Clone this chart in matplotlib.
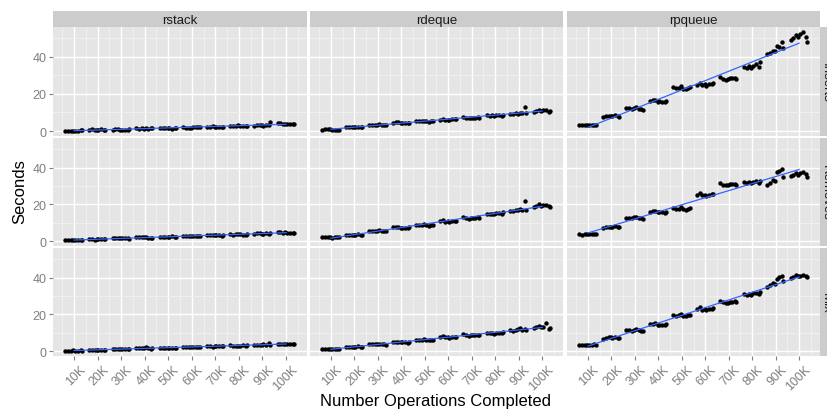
import numpy as np
import matplotlib
matplotlib.use('Agg')
import matplotlib.pyplot as plt
from matplotlib.transforms import ScaledTranslation

plt.rcParams['font.family'] = ['Liberation Sans', 'DejaVu Sans']

# number of operations completed (thousands) and the runs measured at each
ops_k = [10, 20, 30, 40, 50, 60, 70, 80, 90, 100]
tick_labels = ['10K', '20K', '30K', '40K', '50K', '60K', '70K', '80K', '90K', '100K']
structures = ['rstack', 'rdeque', 'rpqueue']
workloads = ['Inserts', 'Removes', 'Mix']

# seconds, one row of runs per ops_k value
rstack_inserts = [
    [0.1, 0.2, 0.3, 0.2, 0.1, 0.3, 0.2, 0.1], [0.7, 0.8, 0.9, 0.6, 0.8, 0.7, 0.9, 0.8],
    [0.7, 0.9, 0.8, 1.0, 0.6, 0.8, 0.7, 0.9], [1.3, 1.5, 1.4, 1.6, 1.2, 1.5, 1.4, 1.3],
    [1.4, 1.6, 1.8, 1.3, 1.5, 1.7, 1.6, 1.4], [1.8, 2.0, 1.7, 1.9, 2.1, 1.8, 2.0, 1.9],
    [2.2, 2.4, 2.3, 2.5, 2.1, 2.3, 2.4, 2.2], [2.6, 2.9, 2.7, 3.0, 2.5, 2.8, 2.7, 2.9],
    [2.9, 3.3, 3.1, 3.5, 2.8, 4.8, 3.2, 3.0], [3.8, 4.0, 3.6, 4.2, 3.9, 3.7, 4.1, 3.8]]
rstack_removes = [
    [0.4, 0.6, 0.5, 0.3, 0.7, 0.5, 0.4, 0.6], [0.9, 1.1, 1.0, 1.2, 0.8, 1.0, 1.1, 0.9],
    [1.4, 1.5, 1.6, 1.3, 1.5, 1.7, 1.4, 1.6], [1.9, 2.0, 2.2, 1.8, 2.1, 2.0, 1.9, 2.1],
    [2.2, 2.4, 2.3, 2.5, 2.1, 2.3, 2.4, 2.2], [2.6, 2.8, 2.7, 2.9, 2.5, 2.7, 2.8, 2.6],
    [3.1, 3.3, 3.2, 3.4, 3.0, 3.3, 3.2, 3.1], [3.5, 3.7, 3.6, 3.8, 3.4, 3.6, 3.7, 3.5],
    [4.0, 4.3, 4.1, 4.4, 3.9, 4.2, 4.1, 4.3], [4.5, 4.7, 4.6, 4.8, 4.4, 4.6, 4.7, 4.5]]
rstack_mix = [
    [0.1, 0.2, 0.3, 0.1, 0.2, 0.2, 0.3, 0.1], [0.6, 0.7, 0.8, 0.6, 0.7, 0.8, 0.7, 0.6],
    [1.1, 1.2, 1.3, 1.0, 1.2, 1.1, 1.3, 1.2], [1.4, 1.5, 1.6, 1.3, 1.5, 2.1, 1.4, 1.6],
    [1.7, 1.8, 1.9, 1.6, 1.8, 1.9, 1.7, 1.8], [2.1, 2.2, 2.3, 2.0, 2.2, 2.3, 2.1, 2.2],
    [2.5, 2.6, 2.8, 2.4, 2.6, 3.0, 2.7, 2.5], [2.9, 3.0, 3.2, 2.8, 3.1, 3.3, 3.0, 2.9],
    [3.3, 3.5, 4.4, 3.4, 3.6, 3.2, 3.5, 3.4], [3.7, 3.8, 4.0, 3.6, 3.9, 3.8, 3.7, 3.9]]

rdeque_inserts = [
    [0.7, 0.9, 0.8, 1.0, 0.6, 0.8, 0.9, 0.7], [2.0, 2.2, 2.4, 1.9, 2.3, 2.1, 2.2, 2.0],
    [3.2, 3.4, 3.6, 3.1, 3.5, 3.3, 3.4, 3.2], [4.3, 4.5, 4.7, 4.2, 4.6, 4.4, 4.5, 4.3],
    [5.2, 5.4, 5.6, 5.1, 5.5, 5.3, 5.4, 5.2], [6.1, 6.3, 6.6, 6.0, 6.4, 6.2, 6.3, 6.1],
    [7.0, 7.2, 7.5, 6.9, 7.3, 7.1, 7.2, 7.0], [8.2, 8.5, 8.8, 8.1, 8.6, 8.4, 8.5, 8.3],
    [9.3, 9.6, 13.1, 9.2, 9.8, 9.5, 9.4, 9.7], [10.6, 11.0, 11.4, 10.4, 11.2, 10.5, 10.8, 11.1]]
rdeque_removes = [
    [2.0, 2.3, 2.1, 2.4, 1.9, 2.2, 2.1, 2.3], [3.2, 3.4, 3.6, 3.1, 3.5, 3.3, 3.4, 3.2],
    [5.4, 5.6, 5.8, 5.3, 5.7, 5.5, 5.6, 5.4], [7.2, 7.4, 7.6, 7.1, 7.5, 7.3, 7.4, 7.2],
    [8.5, 8.8, 9.2, 8.4, 9.0, 8.7, 8.8, 8.6], [10.6, 11.0, 11.6, 10.4, 11.2, 10.8, 11.0, 10.7],
    [12.4, 12.8, 13.2, 12.2, 13.0, 12.6, 12.8, 12.5], [14.7, 15.1, 15.6, 14.5, 15.3, 14.9, 15.0, 14.8],
    [16.4, 16.9, 21.8, 16.2, 17.5, 16.7, 16.8, 17.1], [18.8, 19.3, 19.8, 18.5, 20.2, 18.9, 19.1, 19.5]]
rdeque_mix = [
    [1.0, 1.2, 1.3, 0.9, 1.2, 1.1, 1.0, 1.2], [2.1, 2.3, 2.5, 2.0, 2.4, 2.2, 2.3, 2.1],
    [3.6, 3.8, 4.1, 3.4, 3.9, 3.7, 3.8, 3.6], [4.7, 4.9, 5.1, 4.6, 5.0, 4.8, 4.9, 4.7],
    [5.9, 6.1, 6.3, 5.8, 6.2, 6.0, 6.1, 5.9], [7.5, 7.7, 8.0, 7.3, 7.8, 7.6, 7.7, 7.5],
    [8.6, 8.8, 9.1, 8.4, 9.0, 8.7, 8.8, 8.6], [9.7, 9.9, 10.3, 9.5, 10.1, 9.8, 9.9, 9.7],
    [11.4, 11.7, 12.1, 11.2, 12.4, 11.6, 11.8, 11.5], [12.8, 13.1, 15.1, 12.6, 13.4, 12.2, 13.0, 12.9]]

rpqueue_inserts = [
    [3.2, 3.4, 3.5, 3.3, 3.4, 3.3, 3.2, 3.4], [7.8, 8.2, 8.5, 7.6, 8.3, 8.0, 8.1, 7.9],
    [11.8, 12.3, 12.8, 11.5, 12.5, 12.1, 12.2, 11.9], [15.8, 16.4, 16.9, 15.5, 16.6, 16.1, 16.3, 15.9],
    [22.8, 23.6, 24.2, 22.5, 23.9, 23.3, 23.5, 23.0], [24.8, 25.4, 26.1, 24.5, 25.8, 25.2, 25.5, 25.0],
    [28.0, 28.5, 29.0, 27.8, 28.7, 28.3, 28.4, 28.1], [33.8, 35.3, 37.3, 34.2, 36.2, 34.8, 35.0, 34.5],
    [41.6, 43.5, 47.9, 42.3, 46.0, 44.6, 43.0, 45.2], [48.0, 50.6, 53.3, 49.2, 52.0, 51.0, 50.2, 52.6]]
rpqueue_removes = [
    [3.6, 3.8, 3.9, 3.5, 3.8, 3.7, 3.6, 3.8], [7.4, 7.7, 8.0, 7.2, 7.9, 7.6, 7.7, 7.5],
    [12.4, 12.8, 13.3, 12.2, 13.0, 12.6, 12.7, 12.5], [15.6, 16.0, 16.5, 15.4, 16.2, 15.8, 15.9, 15.7],
    [17.4, 17.8, 18.3, 17.2, 18.0, 17.6, 17.7, 17.5], [25.0, 25.4, 26.0, 24.7, 25.7, 25.2, 25.3, 25.1],
    [30.5, 31.0, 31.5, 30.3, 31.2, 30.8, 30.9, 30.6], [31.8, 32.3, 32.9, 31.5, 32.6, 32.1, 32.2, 31.9],
    [30.4, 33.5, 39.5, 31.8, 37.5, 35.0, 33.0, 38.4], [35.0, 36.2, 37.7, 35.5, 37.0, 36.5, 35.8, 37.3]]
rpqueue_mix = [
    [3.2, 3.4, 3.6, 3.1, 3.5, 3.3, 3.4, 3.2], [7.0, 7.4, 7.8, 6.8, 7.6, 7.2, 7.3, 7.1],
    [11.0, 11.5, 12.0, 10.8, 11.7, 11.3, 11.4, 11.1], [14.2, 14.6, 15.1, 14.0, 14.8, 14.4, 14.5, 14.3],
    [19.1, 19.6, 20.2, 18.9, 19.9, 19.4, 19.5, 19.2], [22.6, 23.2, 23.8, 22.4, 23.5, 23.0, 23.1, 22.8],
    [26.4, 26.9, 27.5, 26.2, 27.2, 26.7, 26.8, 26.5], [30.6, 31.4, 32.4, 30.3, 31.8, 31.1, 31.2, 30.9],
    [35.0, 37.0, 41.2, 36.0, 39.5, 38.2, 36.5, 40.4], [40.2, 40.9, 41.6, 40.0, 41.3, 40.7, 40.5, 41.0]]

panels = [
    [rstack_inserts, rdeque_inserts, rpqueue_inserts],
    [rstack_removes, rdeque_removes, rpqueue_removes],
    [rstack_mix, rdeque_mix, rpqueue_mix],
]

# fixed horizontal jitter (thousands), rotated per group
JITTER = [-3.6, -1.2, 2.8, -2.4, 0.4, 3.3, -0.3, 1.6]

W, H = 828, 414
cols_px = [(53, 307), (310, 563), (567, 820)]
rows_px = [(28, 137), (139, 247), (249, 357)]

PANEL_BG = '#E5E5E5'
STRIP_BG = '#CCCCCC'
GREY50 = '#7F7F7F'


def frac(x0, x1, y0, y1):
    return [x0 / W, 1 - y1 / H, (x1 - x0) / W, (y1 - y0) / H]


def bare(ax):
    ax.set_xticks([])
    ax.set_yticks([])
    for s in ax.spines.values():
        s.set_visible(False)


fig = plt.figure(figsize=(W / 100, H / 100), dpi=100)
shift = ScaledTranslation(5 / 100, 0, fig.dpi_scale_trans)

for r, (y0, y1) in enumerate(rows_px):
    for c, (x0, x1) in enumerate(cols_px):
        ax = fig.add_axes(frac(x0, x1, y0, y1))
        ax.set_facecolor(PANEL_BG)
        for s in ax.spines.values():
            s.set_visible(False)
        ax.set_xlim(1.1, 108.9)
        ax.set_ylim(-2.7, 56.2)
        ax.set_xticks(ops_k)
        ax.set_xticks([5 + 10 * i for i in range(11)], minor=True)
        ax.set_yticks([0, 20, 40])
        ax.set_yticks([10, 30, 50], minor=True)
        ax.grid(which='major', color='white', linewidth=1.0)
        ax.grid(which='minor', color='#F2F2F2', linewidth=0.6)
        ax.set_axisbelow(True)
        ax.tick_params(which='minor', length=0)
        ax.tick_params(which='major', length=3, width=0.8, color=GREY50,
                       labelcolor=GREY50, labelsize=9, pad=1.5)

        runs = panels[r][c]
        xs, ys, xn = [], [], []
        for g, (k, vals) in enumerate(zip(ops_k, runs)):
            offs = np.roll(JITTER, 3 * g)
            xs.extend(k + offs[:len(vals)])
            xn.extend([k] * len(vals))
            ys.extend(vals)
        ax.scatter(xs, ys, s=10, color='black', linewidths=0, zorder=3)
        slope, icpt = np.polyfit(xn, ys, 1)
        xl = np.array([ops_k[0], ops_k[-1]])
        ax.plot(xl, slope * xl + icpt, color='#3366FF', linewidth=0.9, zorder=4)

        if r == 2:
            ax.tick_params(axis='x', which='major', pad=2)
            ax.set_xticklabels(tick_labels, rotation=45, ha='right', va='top',
                               rotation_mode='anchor')
            for lbl in ax.get_xticklabels():
                lbl.set_transform(lbl.get_transform() + shift)
        else:
            ax.tick_params(axis='x', which='major', length=0, labelbottom=False)
        if c != 0:
            ax.tick_params(axis='y', which='major', length=0, labelleft=False)

        if r == 0:
            sax = fig.add_axes(frac(x0, x1, 12, y0))
            sax.set_facecolor(STRIP_BG)
            bare(sax)
            sax.text(0.5, 0.45, structures[c], ha='center', va='center',
                     fontsize=9.5, color='#1A1A1A', transform=sax.transAxes)

    # right strip, running past the figure edge as in the original
    rax = fig.add_axes(frac(820, 837, y0, y1))
    rax.set_facecolor(STRIP_BG)
    bare(rax)
    rax.text(6 / 17, 0.5, workloads[r], ha='center', va='center', rotation=-90,
             fontsize=9.5, color='#1A1A1A', transform=rax.transAxes)

fig.text(20 / W, 1 - 192 / H, 'Seconds', rotation=90, ha='center', va='center',
         fontsize=12)
fig.text(436 / W, 1 - 402 / H, 'Number Operations Completed', ha='center',
         va='center', fontsize=12)

fig.savefig('out.png', dpi=100)
